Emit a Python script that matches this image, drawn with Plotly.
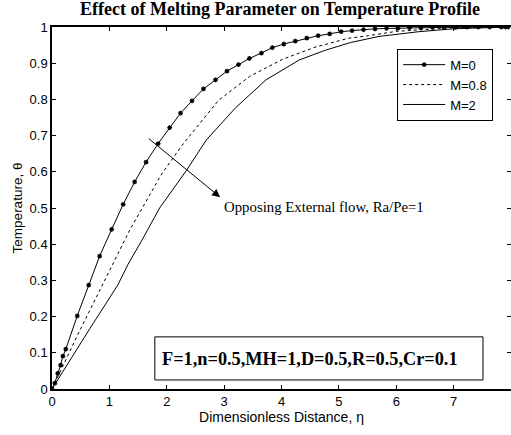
import plotly.graph_objects as go

# M = 0 (line with star markers)
eta_m0 = [0, 0.05, 0.1, 0.15, 0.19, 0.24, 0.44, 0.64, 0.83, 1.04, 1.24, 1.44, 1.64, 1.85,
          2.05, 2.24, 2.44, 2.64, 2.85, 3.05, 3.25, 3.44, 3.65, 3.84, 4.04, 4.24, 4.44,
          4.64, 4.84, 5.04, 5.23, 5.43, 5.63, 5.83, 6.03, 6.23, 6.43, 6.63, 6.83, 7.03,
          7.23, 7.43, 7.63, 7.83, 7.9, 7.95]
theta_m0 = [0, 0.016, 0.043, 0.066, 0.091, 0.11, 0.202, 0.287, 0.367, 0.441, 0.51, 0.572,
            0.627, 0.678, 0.722, 0.762, 0.796, 0.829, 0.854, 0.878, 0.896, 0.913, 0.928,
            0.943, 0.953, 0.961, 0.969, 0.976, 0.981, 0.987, 0.99, 0.993, 0.995, 0.996,
            0.997, 0.998, 0.998, 0.999, 0.999, 0.999, 1.0, 1.0, 1.0, 1.0, 1.0, 1.0]

# M = 0.8 (dotted)
eta_m08 = [0, 0.43, 1.354, 1.9, 2.05, 2.3, 2.9, 3.44, 4.02, 4.6, 5.17, 5.52, 6.0, 6.5, 7.0, 7.95]
theta_m08 = [0, 0.144, 0.439, 0.591, 0.625, 0.68, 0.797, 0.863, 0.911, 0.945, 0.969, 0.976,
             0.988, 0.994, 0.998, 1.0]

# M = 2 (solid)
eta_m2 = [0, 0.44, 0.66, 1.15, 1.32, 1.585, 1.79, 1.875, 2.34, 2.69, 3.2, 3.73, 4.31, 4.75,
          5.2, 5.7, 6.39, 7.0, 7.95]
theta_m2 = [0, 0.112, 0.167, 0.288, 0.343, 0.416, 0.476, 0.5, 0.603, 0.688, 0.777, 0.854,
            0.909, 0.935, 0.957, 0.974, 0.987, 0.995, 1.0]

x_ticks = [0, 1, 2, 3, 4, 5, 6, 7]
y_ticks = [0, 0.1, 0.2, 0.3, 0.4, 0.5, 0.6, 0.7, 0.8, 0.9, 1]
y_tick_text = ["0", "0.1", "0.2", "0.3", "0.4", "0.5", "0.6", "0.7", "0.8", "0.9", "1"]

SANS = "Liberation Sans, Arial"
SERIF = "Liberation Serif, Times New Roman"

fig = go.Figure()
fig.add_trace(go.Scatter(x=eta_m0, y=theta_m0, mode="lines+markers", name="M=0",
                         line=dict(color="black", width=1),
                         marker=dict(symbol="asterisk-open", size=4, color="black",
                                     line=dict(color="black", width=1.2))))
fig.add_trace(go.Scatter(x=eta_m08, y=theta_m08, mode="lines", name="M=0.8",
                         line=dict(color="black", width=1, dash="dot")))
fig.add_trace(go.Scatter(x=eta_m2, y=theta_m2, mode="lines", name="M=2",
                         line=dict(color="black", width=1)))

axis_common = dict(showline=True, linecolor="black", linewidth=1.5, mirror="ticks",
                   ticks="inside", ticklen=4, tickcolor="black", showgrid=False,
                   zeroline=False, automargin=False,
                   tickfont=dict(family=SANS, size=13, color="black"))

fig.update_xaxes(range=[0, 8], tickvals=x_ticks, ticktext=[str(v) for v in x_ticks],
                 title=dict(text="Dimensionless Distance, η", standoff=4,
                            font=dict(family=SANS, size=14, color="black")),
                 **axis_common)
fig.update_yaxes(range=[0, 1], tickvals=y_ticks, ticktext=y_tick_text,
                 title=dict(text="Temperature, θ", standoff=4,
                            font=dict(family=SANS, size=13.5, color="black")),
                 **axis_common)

fig.add_annotation(x=2.93, y=0.53, ax=1.66, ay=0.695, xref="x", yref="y", axref="x", ayref="y",
                   text="", showarrow=True, arrowhead=2, arrowsize=1.6, arrowwidth=1,
                   arrowcolor="black")
fig.add_annotation(x=2.97, y=0.503, xref="x", yref="y", xanchor="left", yanchor="middle",
                   text="Opposing External flow, Ra/Pe=1", showarrow=False,
                   font=dict(family=SERIF, size=14.8, color="black"))

# parameter box
fig.add_shape(type="rect", xref="paper", yref="paper", x0=0.224, x1=0.939, y0=0.025, y1=0.144,
              line=dict(color="black", width=1), fillcolor="white", layer="above")
fig.add_annotation(x=0.563, y=0.082, xref="paper", yref="paper", xanchor="center",
                   yanchor="middle",
                   text="<b>F=1,n=0.5,MH=1,D=0.5,R=0.5,Cr=0.1</b>", showarrow=False,
                   font=dict(family=SERIF, size=18.3, color="black"))

fig.update_layout(
    width=511, height=435,
    margin=dict(l=52, r=0, t=27, b=46, autoexpand=False),
    paper_bgcolor="white", plot_bgcolor="white",
    title=dict(text="<b>Effect of Melting Parameter on Temperature Profile</b>",
               x=0.548, xanchor="center", y=0.979, yanchor="middle",
               font=dict(family=SERIF, size=18, color="black")),
    legend=dict(x=0.752, y=0.94, xanchor="left", yanchor="top", bgcolor="white",
                bordercolor="black", borderwidth=1,
                font=dict(family=SANS, size=13, color="black"),
                itemwidth=42, tracegroupgap=0),
    showlegend=True,
)

fig.write_html("out.html", config={"displayModeBar": False},
               post_script="document.body.style.margin='0';document.body.style.padding='0';")
